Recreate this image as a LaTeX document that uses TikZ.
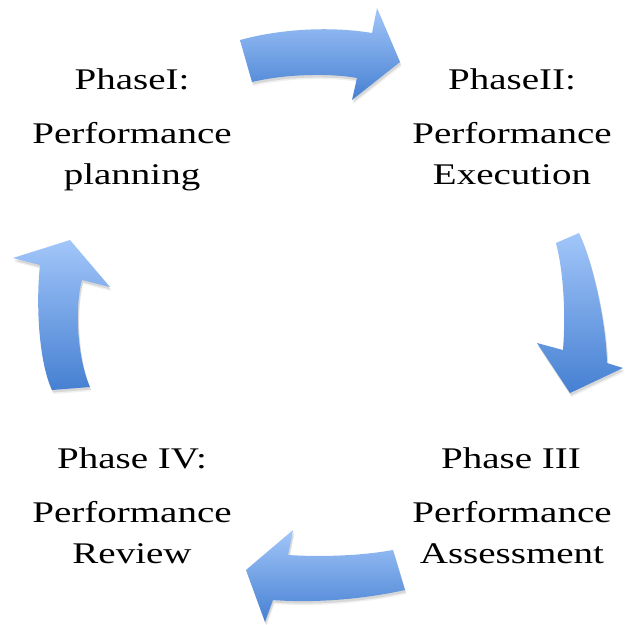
\documentclass[tikz,border=0pt]{standalone}
\usepackage{fontspec}
\setmainfont{Liberation Serif}[FakeStretch=1.3]

\definecolor{arrowlight}{RGB}{162,198,249}
\definecolor{arrowdark}{RGB}{70,128,210}

\tikzset{
  softshadow/.style={preaction={fill=black, fill opacity=#1,
    transform canvas={xshift=1pt, yshift=-2.5pt}}},
  cyclearrow/.style={
    softshadow=0.10,
    preaction={fill=black, fill opacity=0.06,
      transform canvas={xshift=1.5pt, yshift=-4pt}},
    top color=arrowlight, bottom color=arrowdark, draw=none
  },
  phaselabel/.style={anchor=base, inner sep=0pt,
    font=\fontsize{30}{40}\selectfont},
  desclabel/.style={anchor=base, inner sep=0pt, align=center,
    font=\fontsize{30}{40.5}\selectfont}
}

\begin{document}
\begin{tikzpicture}[x=1pt, y=-1pt]
  \useasboundingbox (0,0) rectangle (625,625);
  \fill[white] (0,0) rectangle (625,625);

  % Phase labels (description nodes sit on the baseline of their last line)
  \node[phaselabel] (t1) at (132,89) {PhaseI:};
  \node[desclabel] (d1) at (132,184) {Performance\\planning};
  \node[phaselabel] (t2) at (512,89) {PhaseII:};
  \node[desclabel] (d2) at (512,184) {Performance\\Execution};
  \node[phaselabel] (t3) at (511,468) {Phase III};
  \node[desclabel] (d3) at (512,563) {Performance\\Assessment};
  \node[phaselabel] (t4) at (132,468) {Phase IV:};
  \node[desclabel] (d4) at (132,563) {Performance\\Review};

  % Top arrow: planning -> execution
  \path[cyclearrow] (240,40) .. controls (280,29) and (330,26) .. (372,33)
    -- (377,8) -- (400,62) -- (352,100) -- (357,78)
    .. controls (330,73) and (285,74) .. (252,82) -- cycle;

  % Right arrow: execution -> assessment
  \path[cyclearrow] (556,243) -- (579,233)
    .. controls (592,260) and (606,320) .. (607,363)
    -- (623,368) -- (570,393) -- (537,343) -- (563,350)
    .. controls (566,310) and (563,270) .. (556,243) -- cycle;

  % Bottom arrow: assessment -> review
  \path[cyclearrow] (393,550) -- (405,590)
    .. controls (360,600) and (310,603) .. (273,600)
    -- (265,622) -- (246,570) -- (293,530) -- (288,555)
    .. controls (320,557) and (360,556) .. (393,550) -- cycle;

  % Left arrow: review -> planning
  \path[cyclearrow] (70,240) -- (110,287) -- (82,280)
    .. controls (74,310) and (78,360) .. (90,387)
    -- (52,390)
    .. controls (38,360) and (36,300) .. (40,265)
    -- (13,258) -- cycle;
\end{tikzpicture}
\end{document}
